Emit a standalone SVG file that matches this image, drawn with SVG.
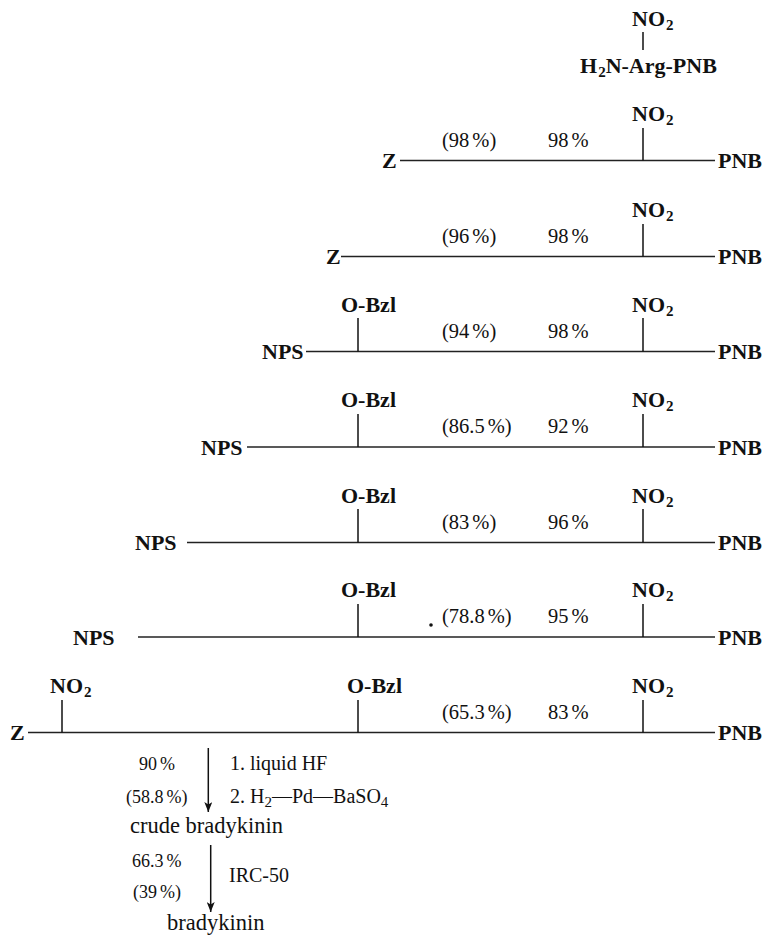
<svg xmlns="http://www.w3.org/2000/svg" width="765" height="936" viewBox="0 0 765 936" font-family="'Liberation Serif', 'DejaVu Serif', serif">
<defs>
<style>
text{font-family:'Liberation Serif','DejaVu Serif',serif;fill:#111}
.b{font-weight:bold;font-size:22px}
.p{font-size:20.5px}
.q{font-size:18px}
.r{font-size:20px}
.c{font-size:22.5px}
.s{font-size:15px}
.ln{stroke:#222;stroke-width:1.3;fill:none}
.tk{stroke:#111;stroke-width:1.5;fill:none}
</style>
<marker id="ah" markerWidth="11" markerHeight="8" refX="10" refY="4" orient="auto" markerUnits="userSpaceOnUse" viewBox="0 0 11 8">
<path d="M0,0 L10,4 L0,8 L2.5,4 Z" fill="#111"/>
</marker>
</defs>
<rect width="765" height="936" fill="#fff"/>

<g id="connectors">
<line class="tk" x1="643" y1="32" x2="643" y2="50"/>
<line class="ln" x1="400" y1="160.5" x2="715" y2="160.5"/>
<line class="tk" x1="643" y1="128" x2="643" y2="160.5"/>
<line class="ln" x1="341" y1="256.5" x2="715" y2="256.5"/>
<line class="tk" x1="643" y1="224" x2="643" y2="256.5"/>
<line class="ln" x1="306" y1="351.5" x2="715" y2="351.5"/>
<line class="tk" x1="358" y1="318" x2="358" y2="351.5"/>
<line class="tk" x1="643" y1="318" x2="643" y2="351.5"/>
<line class="ln" x1="247" y1="447" x2="715" y2="447"/>
<line class="tk" x1="358" y1="414" x2="358" y2="447"/>
<line class="tk" x1="643" y1="414" x2="643" y2="447"/>
<line class="ln" x1="187" y1="542.5" x2="715" y2="542.5"/>
<line class="tk" x1="358" y1="509" x2="358" y2="542.5"/>
<line class="tk" x1="643" y1="509" x2="643" y2="542.5"/>
<line class="ln" x1="138" y1="637" x2="715" y2="637"/>
<line class="tk" x1="358" y1="604" x2="358" y2="637"/>
<line class="tk" x1="643" y1="604" x2="643" y2="637"/>
<line class="ln" x1="28" y1="732.5" x2="715" y2="732.5"/>
<line class="tk" x1="62" y1="700" x2="62" y2="732.5"/>
<line class="tk" x1="358" y1="700" x2="358" y2="732.5"/>
<line class="tk" x1="643" y1="700" x2="643" y2="732.5"/>
<line class="tk" x1="208.3" y1="748" x2="208.3" y2="812" marker-end="url(#ah)"/>
<line class="tk" x1="210.7" y1="845" x2="210.7" y2="912" marker-end="url(#ah)"/>
</g>

<g id="start">
<text class="b" x="632" y="26">NO<tspan class="s" dx="1" dy="4">2</tspan></text>
<text class="b" x="580" y="73">H<tspan class="s" dx="1" dy="4">2</tspan><tspan dy="-4">N-Arg-PNB</tspan></text>
</g>

<g id="row1">
<text class="b" x="382" y="168">Z</text>
<text class="b" x="632" y="120.5">NO<tspan class="s" dx="1" dy="4">2</tspan></text>
<text class="p" x="442" y="146.5">(98<tspan dx="3">%</tspan>)</text>
<text class="p" x="548" y="146.5">98<tspan dx="3">%</tspan></text>
<text class="b" x="718" y="168">PNB</text>
</g>

<g id="row2">
<text class="b" x="326" y="264">Z</text>
<text class="b" x="632" y="216.5">NO<tspan class="s" dx="1" dy="4">2</tspan></text>
<text class="p" x="442" y="242.5">(96<tspan dx="3">%</tspan>)</text>
<text class="p" x="548" y="242.5">98<tspan dx="3">%</tspan></text>
<text class="b" x="718" y="264">PNB</text>
</g>

<g id="row3">
<text class="b" x="262" y="359">NPS</text>
<text class="b" x="341" y="311.5">O-Bzl</text>
<text class="b" x="632" y="311.5">NO<tspan class="s" dx="1" dy="4">2</tspan></text>
<text class="p" x="442" y="337.5">(94<tspan dx="3">%</tspan>)</text>
<text class="p" x="548" y="337.5">98<tspan dx="3">%</tspan></text>
<text class="b" x="718" y="359">PNB</text>
</g>

<g id="row4">
<text class="b" x="201" y="454.5">NPS</text>
<text class="b" x="341" y="407">O-Bzl</text>
<text class="b" x="632" y="407">NO<tspan class="s" dx="1" dy="4">2</tspan></text>
<text class="p" x="442" y="433">(86.5<tspan dx="3">%</tspan>)</text>
<text class="p" x="548" y="433">92<tspan dx="3">%</tspan></text>
<text class="b" x="718" y="454.5">PNB</text>
</g>

<g id="row5">
<text class="b" x="135" y="550">NPS</text>
<text class="b" x="341" y="502.5">O-Bzl</text>
<text class="b" x="632" y="502.5">NO<tspan class="s" dx="1" dy="4">2</tspan></text>
<text class="p" x="442" y="528.5">(83<tspan dx="3">%</tspan>)</text>
<text class="p" x="548" y="528.5">96<tspan dx="3">%</tspan></text>
<text class="b" x="718" y="550">PNB</text>
</g>

<g id="row6">
<text class="b" x="73" y="644.5">NPS</text>
<text class="b" x="341" y="597">O-Bzl</text>
<text class="b" x="632" y="597">NO<tspan class="s" dx="1" dy="4">2</tspan></text>
<circle cx="431" cy="625" r="1.8" fill="#111"/>
<text class="p" x="442" y="623">(78.8<tspan dx="3">%</tspan>)</text>
<text class="p" x="548" y="623">95<tspan dx="3">%</tspan></text>
<text class="b" x="718" y="644.5">PNB</text>
</g>

<g id="row7">
<text class="b" x="10" y="740">Z</text>
<text class="b" x="50" y="692.5">NO<tspan class="s" dx="1" dy="4">2</tspan></text>
<text class="b" x="347" y="692.5">O-Bzl</text>
<text class="b" x="632" y="692.5">NO<tspan class="s" dx="1" dy="4">2</tspan></text>
<text class="p" x="442" y="718.5">(65.3<tspan dx="3">%</tspan>)</text>
<text class="p" x="548" y="718.5">83<tspan dx="3">%</tspan></text>
<text class="b" x="718" y="740">PNB</text>
</g>

<g id="step1">
<text class="q" x="139" y="770">90<tspan dx="3">%</tspan></text>
<text class="q" x="126" y="803">(58.8<tspan dx="3">%</tspan>)</text>
<text class="r" x="230" y="770">1. liquid HF</text>
<text class="r" x="230" y="803">2. H<tspan class="s" dy="4">2</tspan><tspan dy="-4">—Pd—BaSO</tspan><tspan class="s" dy="4">4</tspan></text>
</g>

<g id="crude">
<text class="c" x="130" y="833">crude bradykinin</text>
</g>

<g id="step2">
<text class="q" x="132" y="867">66.3<tspan dx="3">%</tspan></text>
<text class="q" x="133" y="898">(39<tspan dx="3">%</tspan>)</text>
<text class="r" x="229" y="882">IRC-50</text>
</g>

<g id="product">
<text class="c" x="167" y="930">bradykinin</text>
</g>
</svg>
